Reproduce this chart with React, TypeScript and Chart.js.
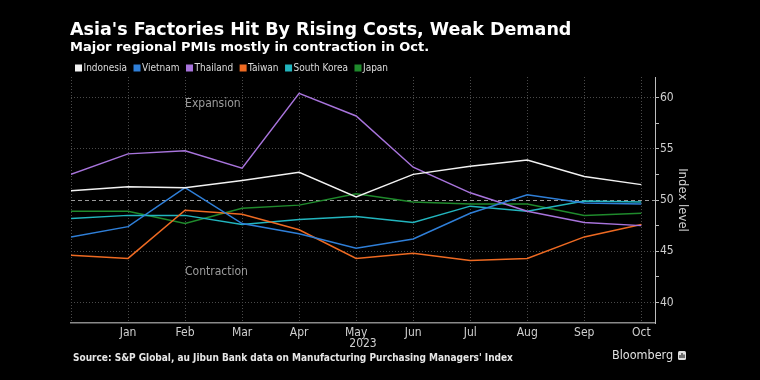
import React, { useEffect, useRef } from 'react';
import { Chart, registerables } from 'chart.js';

Chart.register(...registerables);

// Dec 2022 .. Oct 2023
const monthLabels = ['', 'Jan', 'Feb', 'Mar', 'Apr', 'May', 'Jun', 'Jul', 'Aug', 'Sep', 'Oct'];
const indonesia = [50.9, 51.3, 51.2, 51.9, 52.7, 50.3, 52.5, 53.3, 53.9, 52.3, 51.5];
const vietnam = [46.4, 47.4, 51.2, 47.7, 46.7, 45.3, 46.2, 48.7, 50.5, 49.7, 49.6];
const thailand = [52.5, 54.5, 54.8, 53.1, 60.4, 58.2, 53.2, 50.7, 48.9, 47.8, 47.5];
const taiwan = [44.6, 44.3, 49.0, 48.6, 47.1, 44.3, 44.8, 44.1, 44.3, 46.4, 47.6];
const southKorea = [48.2, 48.5, 48.5, 47.6, 48.1, 48.4, 47.8, 49.4, 48.9, 49.9, 49.8];
const japan = [48.9, 48.9, 47.7, 49.2, 49.5, 50.6, 49.8, 49.6, 49.6, 48.5, 48.7];

const seriesNames = ['Indonesia', 'Vietnam', 'Thailand', 'Taiwan', 'South Korea', 'Japan'];
const seriesValues = [indonesia, vietnam, thailand, taiwan, southKorea, japan];
const seriesColors = ['#f2f2f2', '#2f7fd8', '#a874dc', '#ee6a22', '#22b5be', '#1f8a2c'];

const yTickValues = [40, 42.5, 45, 47.5, 50, 52.5, 55, 57.5, 60];

const titleText = "Asia's Factories Hit By Rising Costs, Weak Demand";
const subtitleText = 'Major regional PMIs mostly in contraction in Oct.';
const sourceText = "Source: S&P Global, au Jibun Bank data on Manufacturing Purchasing Managers' Index";

const COND = '"DejaVu Sans Condensed", "DejaVu Sans", sans-serif';
const SANS = '"DejaVu Sans", sans-serif';

export default function App() {
  const ref = useRef<HTMLCanvasElement>(null);

  useEffect(() => {
    document.body.style.margin = '0';
    document.body.style.background = '#000';

    const textPlugin = {
      id: 'texts',
      beforeDraw(chart: any) {
        const ctx = chart.ctx;
        ctx.save();
        ctx.fillStyle = '#000';
        ctx.fillRect(0, 0, chart.width, chart.height);
        ctx.restore();
      },
      beforeDatasetsDraw(chart: any) {
        const ctx = chart.ctx;
        const { y } = chart.scales;
        const area = chart.chartArea;
        const y50 = Math.round(y.getPixelForValue(50)) + 0.5;
        ctx.save();
        ctx.strokeStyle = '#9a9a9a';
        ctx.lineWidth = 1;
        ctx.setLineDash([4, 3]);
        ctx.beginPath();
        ctx.moveTo(area.left, y50);
        ctx.lineTo(area.right, y50);
        ctx.stroke();
        ctx.restore();
      },
      afterDraw(chart: any) {
        const ctx = chart.ctx;
        const { x, y } = chart.scales;
        ctx.save();
        // title & subtitle
        ctx.fillStyle = '#ffffff';
        ctx.textBaseline = 'alphabetic';
        ctx.textAlign = 'left';
        ctx.font = `bold 17.5px ${SANS}`;
        ctx.fillText(titleText, 70, 35);
        ctx.font = `bold 13px ${SANS}`;
        ctx.fillText(subtitleText, 70, 51);

        // legend
        ctx.font = `10px ${COND}`;
        ctx.textBaseline = 'middle';
        let lx = 75;
        const ly = 68;
        chart.data.datasets.forEach((ds: any) => {
          ctx.fillStyle = ds.borderColor;
          ctx.fillRect(lx, ly - 3.5, 7, 7);
          ctx.fillStyle = '#dddddd';
          ctx.fillText(ds.label, lx + 8.5, ly);
          lx += 8.5 + ctx.measureText(ds.label).width + 6.5;
        });

        // annotations
        ctx.font = `12px ${COND}`;
        ctx.fillStyle = '#9c9c9c';
        ctx.fillText('Expansion', x.getPixelForValue(2), y.getPixelForValue(59.4));
        ctx.fillText('Contraction', x.getPixelForValue(2), y.getPixelForValue(43.0));

        // source & brand
        ctx.fillStyle = '#e6e6e6';
        ctx.font = `bold 10px ${COND}`;
        ctx.fillText(sourceText, 73, 358);
        ctx.font = `12.5px ${COND}`;
        ctx.fillStyle = '#e0e0e0';
        ctx.fillText('Bloomberg', 612, 356);
        // brand glyph
        ctx.beginPath();
        ctx.roundRect(678, 351, 8, 9, 1.5);
        ctx.fill();
        ctx.fillStyle = '#000';
        ctx.fillRect(679.5, 355, 1, 3);
        ctx.fillRect(681.5, 353, 1, 5);
        ctx.fillRect(683.5, 354.5, 1, 3.5);
        ctx.restore();
      },
    };

    const chart = new Chart(ref.current as HTMLCanvasElement, {
      type: 'line',
      data: {
        datasets: seriesNames.map((name, i) => ({
          label: name,
          data: seriesValues[i].map((v, j) => ({ x: j, y: v })),
          borderColor: seriesColors[i],
          backgroundColor: seriesColors[i],
          borderWidth: 1.5,
          pointRadius: 0,
          tension: 0,
        })),
      },
      options: {
        animation: false,
        responsive: false,
        maintainAspectRatio: false,
        layout: { padding: { top: 77, left: 71, right: 70, bottom: 27 } },
        plugins: {
          legend: { display: false },
          title: { display: false },
          tooltip: { enabled: false },
        },
        scales: {
          x: {
            type: 'linear',
            min: 0,
            max: 10.24,
            afterBuildTicks: (scale: any) => {
              scale.ticks = monthLabels.map((_, i) => ({ value: i }));
            },
            afterFit: (scale: any) => {
              scale.height = 30;
            },
            ticks: {
              autoSkip: false,
              maxRotation: 0,
              padding: 3,
              color: '#cfcfcf',
              font: { family: COND, size: 12 },
              callback: (v: any) => monthLabels[v] ?? '',
            },
            grid: { color: '#4a4a4a', drawTicks: false, lineWidth: 1 },
            border: { display: true, color: '#8a8a8a', width: 1.5, dash: [1, 2] },
            title: {
              display: true,
              text: '2023',
              color: '#cfcfcf',
              font: { family: COND, size: 12 },
              padding: { top: 0, bottom: 2 },
            },
          },
          y: {
            type: 'linear',
            position: 'right',
            min: 38,
            max: 62,
            afterBuildTicks: (scale: any) => {
              scale.ticks = yTickValues.map((v) => ({ value: v }));
            },
            afterFit: (scale: any) => {
              scale.width = 35;
            },
            ticks: {
              padding: 1,
              color: '#cfcfcf',
              font: { family: COND, size: 12 },
              callback: (v: any) => (Number(v) % 5 === 0 ? String(v) : ''),
            },
            grid: {
              color: (c: any) =>
                c.tick && c.tick.value % 5 === 0 && c.tick.value !== 50 ? '#4a4a4a' : 'rgba(0,0,0,0)',
              tickColor: '#bdbdbd',
              tickLength: 4,
              lineWidth: 1,
            },
            border: { display: true, color: '#bdbdbd', width: 1, dash: [1, 2] },
            title: {
              display: true,
              text: 'Index level',
              color: '#cfcfcf',
              font: { family: COND, size: 13 },
              padding: { top: 0, bottom: 0 },
            },
          },
        },
      },
      plugins: [textPlugin],
    } as any);

    return () => chart.destroy();
  }, []);

  return (
    <div style={{ width: 760, height: 380, background: '#000' }}>
      <canvas ref={ref} width={760} height={380} style={{ display: 'block' }} />
    </div>
  );
}
